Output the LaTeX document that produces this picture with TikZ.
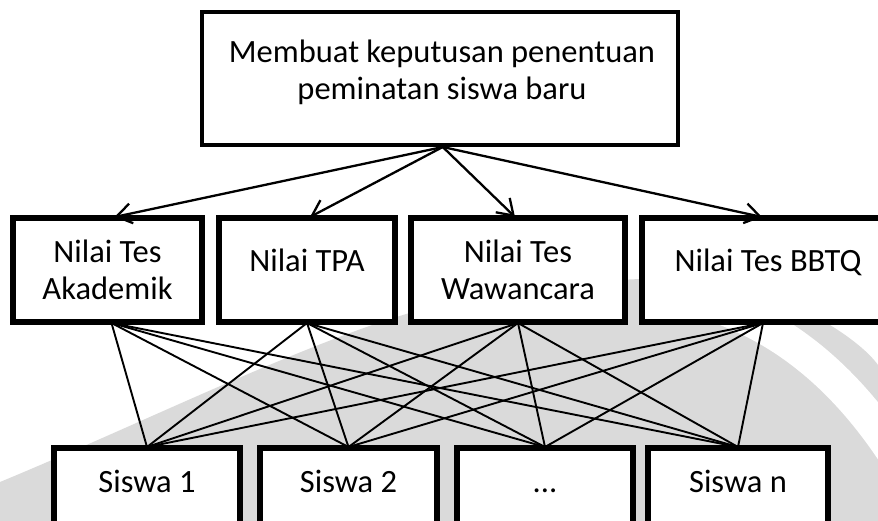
\documentclass[tikz,border=0pt]{standalone}
\usepackage{fontspec}
\setmainfont{Carlito}
\usetikzlibrary{arrows.meta}
\definecolor{wm}{HTML}{DADADA}
\newcommand\lines[1]{\begin{tabular}[t]{@{}c@{}}#1\end{tabular}}
\tikzset{
  box/.style={draw, line width=4pt, fill=white, inner sep=0pt},
  lbl/.style={font=\fontsize{32.5}{37}\selectfont, anchor=base, inner sep=0pt},
  link/.style={line width=1.9pt},
  arr/.style={line width=2.3pt, -{Straight Barb[length=15pt,width=20pt]}},
}
\begin{document}
\begin{tikzpicture}[x=1pt, y=-1pt]
\useasboundingbox (0,0) rectangle (878,521);
\clip (0,0) rectangle (878,521);
% light background swoosh
\fill[wm] (0,482) .. controls (150,420) and (330,330) .. (440,305)
  .. controls (560,280) and (700,268) .. (760,290)
  .. controls (810,310) and (860,340) .. (878,365)
  -- (878,521) -- (0,521) -- cycle;
\draw[white, line width=34pt] (690,298) .. controls (780,320) and (850,380) .. (905,470);

% goal
\node[box, minimum width=476.5pt, minimum height=133pt] (goal) at (439.75,78.5) {};
\node[lbl] (goalt) at (442,63) {\lines{Membuat keputusan penentuan\\peminatan siswa baru}};

% criteria
\node[box, minimum width=187pt, minimum height=102pt] (m1) at (107.5,270) {};
\node[box, minimum width=174pt, minimum height=102pt] (m2) at (307,270) {};
\node[box, minimum width=212pt, minimum height=102pt] (m3) at (518,270) {};
\node[box, minimum width=250pt, minimum height=102pt] (m4) at (768,270) {};
\node[lbl] (m1t) at (107.5,263) {\lines{Nilai Tes\\Akademik}};
\node[lbl] (m2t) at (307,272) {Nilai TPA};
\node[lbl] (m3t) at (518,263) {\lines{Nilai Tes\\Wawancara}};
\node[lbl] (m4t) at (768,272) {Nilai Tes BBTQ};

% alternatives
\node[box, minimum width=184pt, minimum height=110pt] (s1) at (147,504) {};
\node[box, minimum width=175pt, minimum height=110pt] (s2) at (348.5,504) {};
\node[box, minimum width=174pt, minimum height=110pt] (s3) at (545,504) {};
\node[box, minimum width=178pt, minimum height=110pt] (s4) at (738,504) {};
\node[lbl] (s1t) at (147,492) {Siswa 1};
\node[lbl] (s2t) at (348.5,492) {Siswa 2};
\node[lbl] (s3t) at (545,492) {...};
\node[lbl] (s4t) at (738,492) {Siswa n};

% goal to criteria
\coordinate (g0) at ([xshift=3pt]goal.south);
\draw[arr] (g0) -- ([xshift=7pt]m1.north);
\draw[arr] (g0) -- ([xshift=3pt]m2.north);
\draw[arr] (g0) -- ([xshift=-3pt]m3.north);
\draw[arr] (g0) -- ([xshift=-6pt]m4.north);

% criteria to alternatives
\coordinate (c1) at ([xshift=4pt]m1.south);
\coordinate (c2) at (m2.south);
\coordinate (c3) at (m3.south);
\coordinate (c4) at ([xshift=-5pt]m4.south);
\foreach \c in {c1,c2,c3,c4}{
  \foreach \s in {s1,s2,s3,s4}{
    \draw[link] (\c) -- (\s.north);
  }
}
% redraw box borders over the line ends
\foreach \n in {m1,m2,m3,m4,s1,s2,s3,s4}{
  \draw[line width=4pt] (\n.north west) rectangle (\n.south east);
}
\end{tikzpicture}
\end{document}
